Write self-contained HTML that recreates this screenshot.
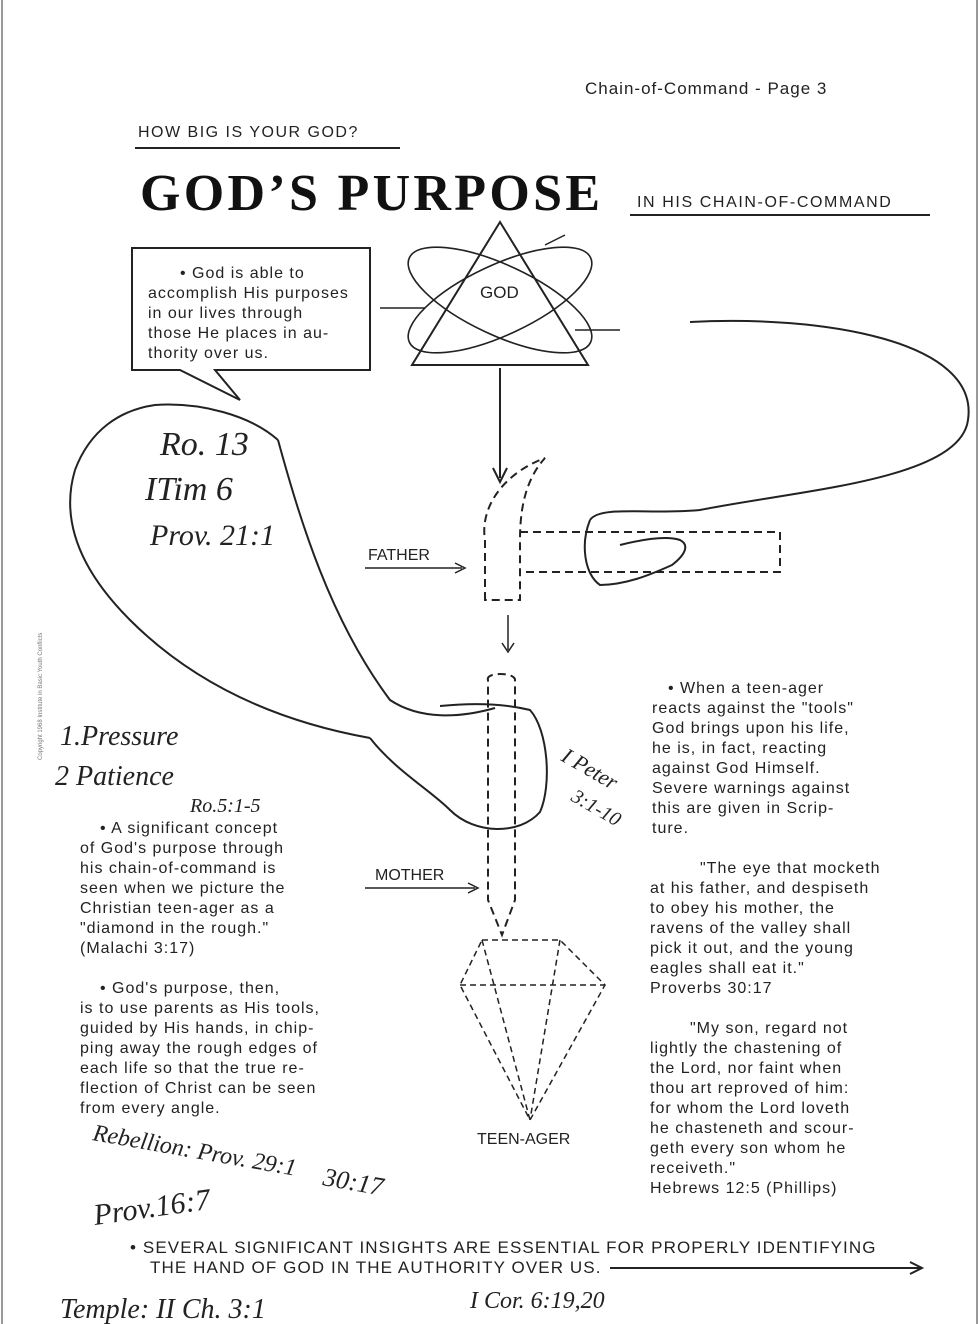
<!DOCTYPE html>
<html><head><meta charset="utf-8"><style>
html,body{margin:0;padding:0;background:#fff;}
svg{display:block}
.t{font-family:"Liberation Sans",sans-serif}
.h{font-family:"Liberation Serif",serif;font-style:italic}
</style></head><body>
<svg width="980" height="1324" viewBox="0 0 980 1324" xmlns="http://www.w3.org/2000/svg" fill="#222" font-size="15">
<rect x="0" y="0" width="980" height="1324" fill="#fff"/>
<line x1="2" y1="0" x2="2" y2="1324" stroke="#999" stroke-width="2"/>
<line x1="977" y1="0" x2="977" y2="1324" stroke="#999" stroke-width="2"/>
<text x="585" y="94" class="t" font-size="17" letter-spacing="1">Chain-of-Command  -  Page 3</text>
<text x="138" y="137" class="t" font-size="16" letter-spacing="1.5">HOW BIG IS YOUR GOD?</text>
<line x1="135" y1="148" x2="400" y2="148" stroke="#222" stroke-width="2"/>
<text x="140" y="210" font-family="Liberation Serif,serif" font-weight="bold" font-size="52" fill="#111" textLength="460">GOD’S PURPOSE</text>
<text x="637" y="207" class="t" font-size="16" letter-spacing="1.6">IN HIS CHAIN-OF-COMMAND</text>
<line x1="630" y1="215" x2="930" y2="215" stroke="#222" stroke-width="2"/>
<path d="M132 248 H370 V370 H215 L240 400 L180 370 H132 Z" fill="none" stroke="#222" stroke-width="2"/>
<g class="t" font-size="16" letter-spacing="1">
<text x="180" y="278">• God is able to</text>
<text x="148" y="298">accomplish His purposes</text>
<text x="148" y="318">in our lives through</text>
<text x="148" y="338">those He places in au-</text>
<text x="148" y="358">thority over us.</text>
</g>
<path d="M500 222 L412 365 H588 Z" fill="none" stroke="#222" stroke-width="2"/>
<ellipse cx="500" cy="300" rx="100" ry="35" transform="rotate(25 500 300)" fill="none" stroke="#222" stroke-width="1.6"/>
<ellipse cx="500" cy="300" rx="100" ry="35" transform="rotate(-25 500 300)" fill="none" stroke="#222" stroke-width="1.6"/>
<text x="480" y="298" class="t" font-size="17">GOD</text>
<line x1="380" y1="308" x2="425" y2="308" stroke="#222" stroke-width="1.5"/>
<line x1="575" y1="330" x2="620" y2="330" stroke="#222" stroke-width="1.5"/>
<line x1="545" y1="245" x2="565" y2="235" stroke="#222" stroke-width="1.5"/>
<line x1="500" y1="368" x2="500" y2="478" stroke="#222" stroke-width="2"/>
<path d="M493 468 L500 482 L507 468" fill="none" stroke="#222" stroke-width="2"/>
<path d="M485 600 V540 C480 510 500 475 545 458 C525 480 520 510 520 540 V600 Z" fill="none" stroke="#222" stroke-width="2" stroke-dasharray="8 5"/>
<path d="M520 532 H780 V572 H520" fill="none" stroke="#222" stroke-width="2" stroke-dasharray="8 5"/>
<line x1="365" y1="568" x2="462" y2="568" stroke="#222" stroke-width="1.5"/>
<path d="M455 563 L465 568 L455 573" fill="none" stroke="#222" stroke-width="1.5"/>
<text x="368" y="560" class="t" font-size="16">FATHER</text>
<line x1="508" y1="615" x2="508" y2="650" stroke="#222" stroke-width="1.5"/>
<path d="M502 643 L508 652 L514 643" fill="none" stroke="#222" stroke-width="1.5"/>
<path d="M690 322 C820 315 980 340 968 420 C960 480 800 490 700 510 C650 515 600 505 590 520" fill="none" stroke="#222" stroke-width="2"/>
<path d="M590 520 C580 545 585 575 600 585 C625 585 650 575 672 565 C685 555 690 545 680 540 C665 535 640 540 620 545" fill="none" stroke="#222" stroke-width="2"/>
<path d="M75 470 C90 430 120 410 155 405 C200 402 250 415 278 440" fill="none" stroke="#222" stroke-width="2"/>
<path d="M75 470 C60 520 80 570 130 620 C190 680 270 720 370 738" fill="none" stroke="#222" stroke-width="2"/>
<path d="M278 440 C300 520 330 620 390 700 C420 720 460 718 495 708" fill="none" stroke="#222" stroke-width="2"/>
<path d="M370 738 C395 770 430 790 450 810 C475 835 520 835 540 812 C552 785 548 730 530 710 C510 705 480 702 440 706" fill="none" stroke="#222" stroke-width="2"/>
<path d="M488 680 C485 672 515 672 515 680 V900 L502 935 L488 900 Z" fill="none" stroke="#222" stroke-width="2" stroke-dasharray="8 5"/>
<line x1="365" y1="888" x2="475" y2="888" stroke="#222" stroke-width="1.5"/>
<path d="M468 883 L478 888 L468 893" fill="none" stroke="#222" stroke-width="1.5"/>
<text x="375" y="880" class="t" font-size="16">MOTHER</text>
<path d="M482 940 H560 L605 985 L530 1120 L460 985 Z M460 985 H605 M482 940 L530 1120 M560 940 L530 1120" fill="none" stroke="#222" stroke-width="1.5" stroke-dasharray="6 4"/>
<text x="477" y="1144" class="t" font-size="16">TEEN-AGER</text>
<g class="t" font-size="16" letter-spacing="1">
<text x="668" y="693">• When a teen-ager</text>
<text x="652" y="713">reacts against the "tools"</text>
<text x="652" y="733">God brings upon his life,</text>
<text x="652" y="753">he is, in fact, reacting</text>
<text x="652" y="773">against God Himself.</text>
<text x="652" y="793">Severe warnings against</text>
<text x="652" y="813">this are given in Scrip-</text>
<text x="652" y="833">ture.</text>
<text x="700" y="873">"The eye that mocketh</text>
<text x="650" y="893">at his father, and despiseth</text>
<text x="650" y="913">to obey his mother, the</text>
<text x="650" y="933">ravens of the valley shall</text>
<text x="650" y="953">pick it out, and the young</text>
<text x="650" y="973">eagles shall eat it."</text>
<text x="650" y="993">Proverbs 30:17</text>
<text x="690" y="1033">"My son, regard not</text>
<text x="650" y="1053">lightly the chastening of</text>
<text x="650" y="1073">the Lord, nor faint when</text>
<text x="650" y="1093">thou art reproved of him:</text>
<text x="650" y="1113">for whom the Lord loveth</text>
<text x="650" y="1133">he chasteneth and scour-</text>
<text x="650" y="1153">geth every son whom he</text>
<text x="650" y="1173">receiveth."</text>
<text x="650" y="1193">Hebrews 12:5 (Phillips)</text>
</g>
<g class="t" font-size="16" letter-spacing="1">
<text x="100" y="833">• A significant concept</text>
<text x="80" y="853">of God's purpose through</text>
<text x="80" y="873">his chain-of-command is</text>
<text x="80" y="893">seen when we picture the</text>
<text x="80" y="913">Christian teen-ager as a</text>
<text x="80" y="933">"diamond in the rough."</text>
<text x="80" y="953">(Malachi 3:17)</text>
<text x="100" y="993">• God's purpose, then,</text>
<text x="80" y="1013">is to use parents as His tools,</text>
<text x="80" y="1033">guided by His hands, in chip-</text>
<text x="80" y="1053">ping away the rough edges of</text>
<text x="80" y="1073">each life so that the true re-</text>
<text x="80" y="1093">flection of Christ can be seen</text>
<text x="80" y="1113">from every angle.</text>
</g>
<text x="160" y="455" class="h" font-size="34">Ro. 13</text>
<text x="145" y="500" class="h" font-size="34">ITim 6</text>
<text x="150" y="545" class="h" font-size="30">Prov. 21:1</text>
<text x="60" y="745" class="h" font-size="28">1.Pressure</text>
<text x="55" y="785" class="h" font-size="28">2 Patience</text>
<text x="190" y="812" class="h" font-size="20">Ro.5:1-5</text>
<text x="560" y="760" class="h" font-size="22" transform="rotate(30 560 760)">I Peter</text>
<text x="570" y="800" class="h" font-size="20" transform="rotate(30 570 800)">3:1-10</text>
<text x="92" y="1140" class="h" font-size="24" transform="rotate(10 92 1140)">Rebellion: Prov. 29:1</text>
<text x="322" y="1185" class="h" font-size="26" transform="rotate(10 322 1185)">30:17</text>
<text x="95" y="1225" class="h" font-size="30" transform="rotate(-8 95 1225)">Prov.16:7</text>
<text x="60" y="1318" class="h" font-size="28">Temple: II Ch.   3:1</text>
<text x="470" y="1308" class="h" font-size="24">I Cor. 6:19,20</text>
<g class="t" font-size="17" letter-spacing="1.1">
<text x="130" y="1253">• SEVERAL SIGNIFICANT INSIGHTS ARE ESSENTIAL FOR PROPERLY IDENTIFYING</text>
<text x="150" y="1273">THE HAND OF GOD IN THE AUTHORITY OVER US.</text>
</g>
<line x1="610" y1="1268" x2="920" y2="1268" stroke="#222" stroke-width="2"/>
<path d="M910 1262 L922 1268 L910 1274" fill="none" stroke="#222" stroke-width="2"/>
<text x="42" y="760" class="t" font-size="6" fill="#777" transform="rotate(-90 42 760)">Copyright 1968 Institute in Basic Youth Conflicts</text>
</svg>
</body></html>
